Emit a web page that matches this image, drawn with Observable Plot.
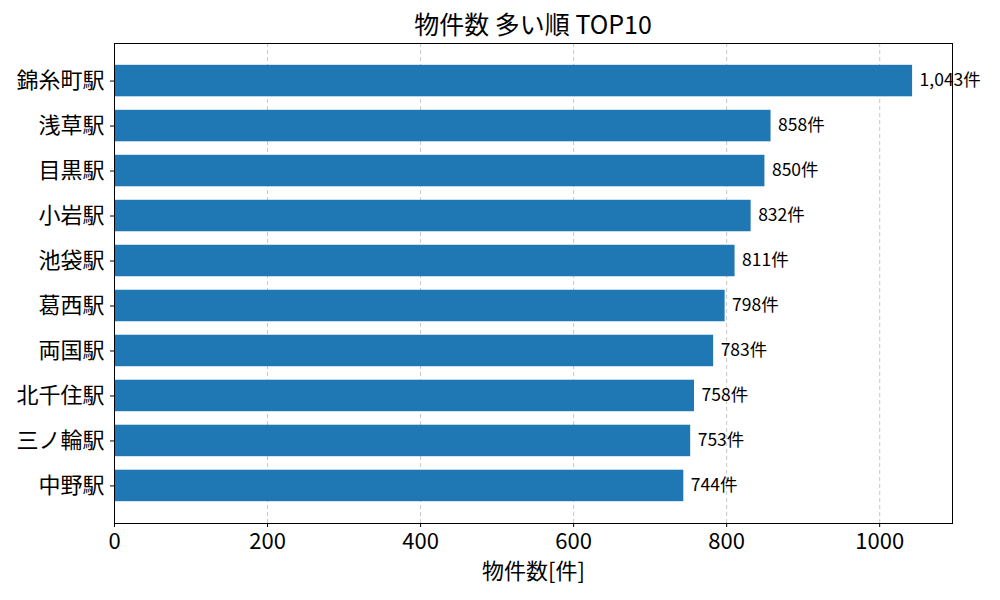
<!DOCTYPE html>
<html>
<head>
<meta charset="utf-8">
<script src="https://cdn.jsdelivr.net/npm/d3@7"></script>
<script src="https://cdn.jsdelivr.net/npm/@observablehq/plot@0.6"></script>
<style>
  body { margin: 0; background: #fff; font-family: "Noto Sans CJK JP", sans-serif; }
  #title { height: 42px; width: 1000px; position: relative; }
  #title span { position: absolute; left: 533px; top: 23px; transform: translate(-50%, -50%); font-size: 25px; color: #000; white-space: nowrap; }
</style>
</head>
<body>
<div id="title"><span>物件数 多い順 TOP10</span></div>
<div id="chart"></div>
<script>
const stations = ["錦糸町駅", "浅草駅", "目黒駅", "小岩駅", "池袋駅", "葛西駅", "両国駅", "北千住駅", "三ノ輪駅", "中野駅"];
const counts = [1043, 858, 850, 832, 811, 798, 783, 758, 753, 744];
const xTicks = [0, 200, 400, 600, 800, 1000];
const gridTicks = [200, 400, 600, 800, 1000];
const xLabel = "物件数[件]";
const unit = "件";

const data = stations.map((s, i) => ({station: s, count: counts[i]}));
const xMax = d3.max(counts) * 1.05;
const fmt = d3.format(",");

const chart = Plot.plot({
  width: 1000,
  height: 557,
  marginLeft: 114,
  marginRight: 48,
  marginTop: 1,
  marginBottom: 76,
  style: {fontFamily: "Noto Sans CJK JP", color: "#000", background: "#fff"},
  x: {domain: [0, xMax], ticks: xTicks, label: xLabel},
  y: {domain: stations, paddingInner: 0.3, paddingOuter: 0.485, round: false, label: null},
  marks: [
    Plot.gridX(gridTicks, {stroke: "#b0b0b0", strokeOpacity: 0.7, strokeDasharray: "4,3"}),
    Plot.barX(data, {x: "count", y: "station", fill: "#1f77b4"}),
    Plot.text(data, {x: "count", y: "station", text: d => fmt(d.count) + unit, dx: 7, dy: -1, textAnchor: "start", fontSize: 17.5, fill: "#000"}),
    Plot.axisX(xTicks, {tickSize: 4, tickPadding: 6, fontSize: 22, label: xLabel, labelAnchor: "center", labelArrow: "none", labelOffset: 55, tickFormat: d3.format("d")}),
    Plot.axisY({tickSize: 4, tickPadding: 6, fontSize: 22, label: null}),
    Plot.frame({stroke: "#000", strokeWidth: 1})
  ]
});
document.getElementById("chart").appendChild(chart);
</script>
</body>
</html>
